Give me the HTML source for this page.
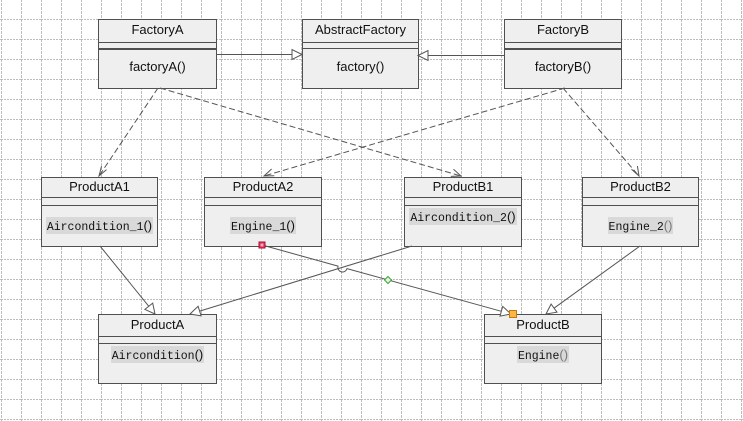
<!DOCTYPE html>
<html><head><meta charset="utf-8"><style>
html,body{margin:0;padding:0;background:#fff;}
#c{position:relative;width:743px;height:421px;overflow:hidden;background:#fff;font-family:"Liberation Sans",sans-serif;}
svg{position:absolute;left:0;top:0;}
.box{position:absolute;box-sizing:border-box;border:1px solid #505050;background:#efefef;}
.t{position:absolute;left:0;right:0;top:0;text-align:center;font-size:13px;color:#111;white-space:nowrap;}
.l{position:absolute;left:0;right:0;height:1px;background:#505050;}
.m{position:absolute;left:0;right:0;height:18px;line-height:18px;text-align:center;font-size:13px;color:#111;white-space:nowrap;}
.h{background:#d9d9d9;padding:1px 1px;}
.mono{font-family:"Liberation Mono",monospace;font-size:11.5px;}
</style></head><body><div id="c">
<svg width="743" height="421">
<defs>
<pattern id="g" width="20" height="20" patternUnits="userSpaceOnUse" x="1" y="19">
<line x1="0.5" y1="0" x2="0.5" y2="20" stroke="#bdbdbd" stroke-width="1" stroke-dasharray="3 1"/>
<line x1="0" y1="0.5" x2="20" y2="0.5" stroke="#bdbdbd" stroke-width="1" stroke-dasharray="2 1"/>
</pattern>
</defs>
<rect width="743" height="421" fill="url(#g)"/>
</svg>

<div class="box" style="left:98px;top:19px;width:119px;height:70px;">
<div class="t" style="line-height:20px;">FactoryA</div>
<div class="l" style="top:22px;"></div>
<div class="l" style="top:28px;height:2px;"></div>
<div class="m" style="top:38px;">factoryA()</div>
</div>
<div class="box" style="left:302px;top:19px;width:117px;height:70px;">
<div class="t" style="line-height:20px;">AbstractFactory</div>
<div class="l" style="top:22px;"></div>
<div class="l" style="top:28px;"></div>
<div class="m" style="top:38px;">factory()</div>
</div>
<div class="box" style="left:504px;top:19px;width:118px;height:70px;">
<div class="t" style="line-height:20px;">FactoryB</div>
<div class="l" style="top:22px;"></div>
<div class="l" style="top:28px;height:2px;"></div>
<div class="m" style="top:38px;">factoryB()</div>
</div>

<div class="box" style="left:41px;top:177px;width:117px;height:70px;">
<div class="t" style="line-height:17px;">ProductA1</div>
<div class="l" style="top:19px;"></div>
<div class="l" style="top:27px;"></div>
<div class="m" style="top:39px;"><span class="h"><span class="mono">Aircondition_1</span>()</span></div>
</div>
<div class="box" style="left:204px;top:177px;width:118px;height:70px;">
<div class="t" style="line-height:17px;">ProductA2</div>
<div class="l" style="top:19px;"></div>
<div class="l" style="top:27px;"></div>
<div class="m" style="top:39px;"><span class="h"><span class="mono">Engine_1</span>()</span></div>
</div>
<div class="box" style="left:404px;top:177px;width:118px;height:70px;">
<div class="t" style="line-height:17px;">ProductB1</div>
<div class="l" style="top:19px;"></div>
<div class="l" style="top:27px;"></div>
<div class="m" style="top:30px;"><span class="h"><span class="mono">Aircondition_2</span>()</span></div>
</div>
<div class="box" style="left:582px;top:177px;width:117px;height:70px;">
<div class="t" style="line-height:17px;">ProductB2</div>
<div class="l" style="top:19px;"></div>
<div class="l" style="top:27px;"></div>
<div class="m" style="top:39px;"><span class="h"><span class="mono">Engine_2</span><span style="color:#777">()</span></span></div>
</div>

<div class="box" style="left:98px;top:314px;width:119px;height:70px;">
<div class="t" style="line-height:20px;">ProductA</div>
<div class="l" style="top:21px;"></div>
<div class="l" style="top:28px;"></div>
<div class="m" style="top:31px;"><span class="h"><span class="mono">Aircondition</span>()</span></div>
</div>
<div class="box" style="left:484px;top:314px;width:118px;height:70px;">
<div class="t" style="line-height:20px;">ProductB</div>
<div class="l" style="top:21px;"></div>
<div class="l" style="top:28px;"></div>
<div class="m" style="top:31px;"><span class="h"><span class="mono">Engine</span><span style="color:#777">()</span></span></div>
</div>

<svg width="743" height="421">
<g stroke="#555" stroke-width="1" fill="none">
<!-- dashed dependencies -->
<g stroke-dasharray="6 3">
<line x1="158" y1="88" x2="99" y2="176"/>
<line x1="160" y1="88" x2="461" y2="176"/>
<line x1="565" y1="88" x2="264" y2="176"/>
<line x1="563" y1="88" x2="639" y2="176"/>
</g>
<!-- open arrowheads -->
<path d="M101.5,166.3 L99,176 L106.5,169.6"/>
<path d="M450.8,176.4 L461,176 L453.5,169.3"/>
<path d="M271.6,169.0 L264,176 L274.3,175.8"/>
<path d="M637.4,166 L639,176 L631.5,169.3"/>
<!-- solid generalizations -->
<line x1="217" y1="54.5" x2="292" y2="54.5"/>
<line x1="504" y1="55.5" x2="428" y2="55.5"/>
<line x1="100" y1="246" x2="148.8" y2="306.3"/>
<line x1="412" y1="246" x2="199.6" y2="311.1"/>
<line x1="640" y1="246" x2="554" y2="308.2"/>
<path d="M262,245 L338,266.1 A4.6,4.6 0 0 0 347,268.6 L501.4,311.3"/>
</g>
<g stroke="#555" stroke-width="1" fill="#fff">
<polygon points="302,54.5 292,49.5 292,59.5"/>
<polygon points="418,55.5 428,50.5 428,60.5"/>
<polygon points="155,314 144.9,309.4 152.7,303.1"/>
<polygon points="190,314 198.1,306.3 201.1,315.9"/>
<polygon points="546,314 551.1,304.1 557,312.2"/>
<polygon points="511,314 500,316.1 502.7,306.4"/>
</g>
<rect x="259" y="242" width="6" height="6" fill="#e8406a" stroke="#a01030" stroke-width="1"/>
<line x1="260.5" y1="245" x2="263.5" y2="245" stroke="#fcc" stroke-width="1"/>
<line x1="262" y1="243.5" x2="262" y2="246.5" stroke="#fcc" stroke-width="1"/>
<polygon points="388,276.5 391.5,280 388,283.5 384.5,280" fill="#dff5d8" stroke="#3ca33c" stroke-width="1"/>
<rect x="509.5" y="310.5" width="7" height="7" fill="#ffb545" stroke="#c07a10" stroke-width="1"/>
</svg>
</div></body></html>
